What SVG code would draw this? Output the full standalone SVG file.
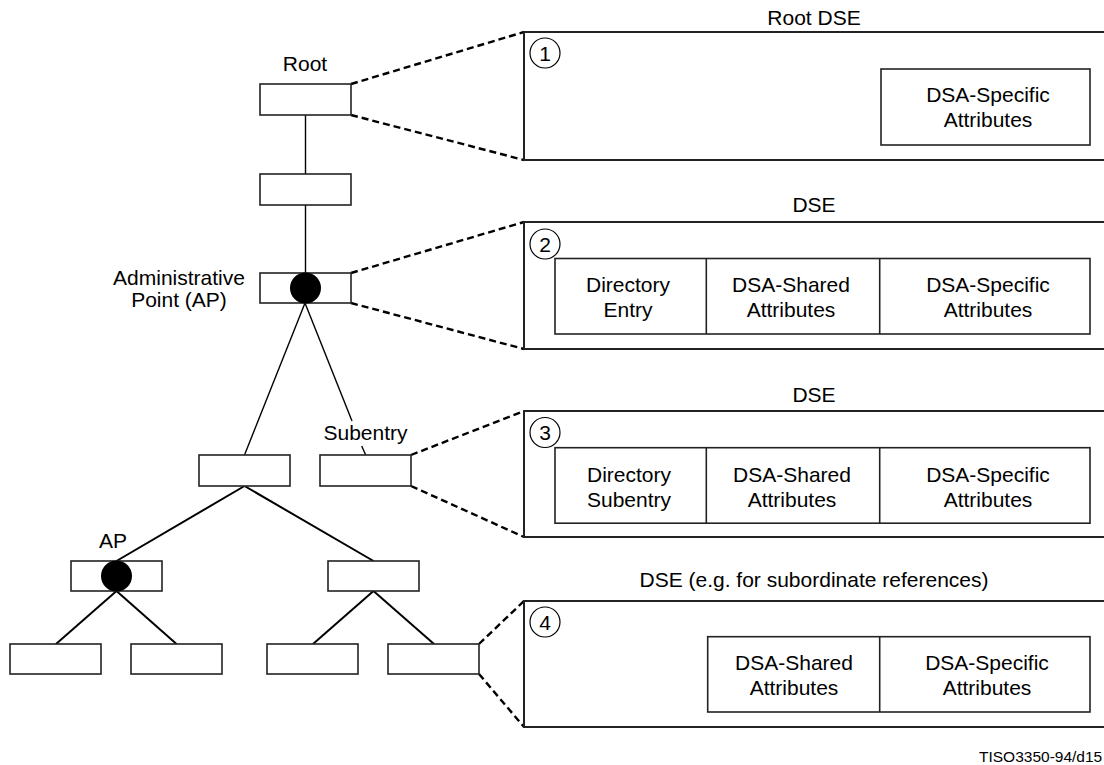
<svg xmlns="http://www.w3.org/2000/svg" width="1104" height="765" viewBox="0 0 1104 765">
<style>
text{font-family:"Liberation Sans",Arial,sans-serif;font-size:21px;fill:#000;text-anchor:middle}
.node{fill:#fff;stroke:#222;stroke-width:1.6}
.dot{fill:#000}
.tl{stroke:#000;stroke-width:1.4;fill:none}
.tl2{stroke:#000;stroke-width:2;fill:none}
.dash{stroke:#000;stroke-width:2.4;stroke-dasharray:7,4;fill:none}
.outer{fill:none;stroke:#222;stroke-width:2}
.inner{fill:none;stroke:#222;stroke-width:1.6}
.num{fill:none;stroke:#000;stroke-width:1.2}
.small{font-size:15.5px;text-anchor:start}
</style>
<rect width="1104" height="765" fill="#fff"/>
<g id="connectors">
<line class="tl" x1="305.5" y1="115" x2="305.5" y2="174"/>
<line class="tl" x1="305.5" y1="205" x2="305.5" y2="273"/>
<line class="tl" x1="305" y1="303" x2="244.5" y2="455"/>
<line class="tl" x1="305" y1="303" x2="352" y2="421"/>
<line class="tl" x1="361.7" y1="446" x2="365.7" y2="455"/>
<line class="tl2" x1="244.5" y1="486" x2="116.5" y2="561"/>
<line class="tl2" x1="244.5" y1="486" x2="373.5" y2="561"/>
<line class="tl2" x1="116.5" y1="591" x2="56" y2="644"/>
<line class="tl2" x1="116.5" y1="591" x2="176.5" y2="644"/>
<line class="tl2" x1="373.5" y1="591" x2="313" y2="644"/>
<line class="tl2" x1="373.5" y1="591" x2="434" y2="644"/>
<line class="dash" x1="351" y1="84" x2="524" y2="32"/>
<line class="dash" x1="351" y1="115" x2="524" y2="160"/>
<line class="dash" x1="351" y1="273" x2="524" y2="222"/>
<line class="dash" x1="351" y1="303" x2="524" y2="349"/>
<line class="dash" x1="411" y1="455" x2="524" y2="411"/>
<line class="dash" x1="411" y1="486" x2="524" y2="537"/>
<line class="dash" x1="479" y1="644" x2="524" y2="601"/>
<line class="dash" x1="479" y1="674" x2="524" y2="727"/>
</g>
<g id="root">
<rect class="node" x="260" y="84" width="91" height="31"/>
<text x="305" y="71">Root</text>
</g>
<g id="n2"><rect class="node" x="260" y="174" width="91" height="31"/></g>
<g id="ap">
<rect class="node" x="260" y="273" width="91" height="30"/>
<circle class="dot" cx="305.5" cy="288" r="15.5"/>
<text x="179" y="285">Administrative</text>
<text x="179" y="307">Point (AP)</text>
</g>
<g id="leftchild"><rect class="node" x="199" y="455" width="91" height="31"/></g>
<g id="subentry">
<rect class="node" x="320" y="455" width="91" height="31"/>
<text x="365.5" y="440">Subentry</text>
</g>
<g id="ap2">
<rect class="node" x="71" y="561" width="91" height="30"/>
<circle class="dot" cx="116.5" cy="576" r="15.5"/>
<text x="113" y="548">AP</text>
</g>
<g id="rightchild"><rect class="node" x="328" y="561" width="91" height="30"/></g>
<g id="leaf1"><rect class="node" x="10" y="644" width="91" height="30"/></g>
<g id="leaf2"><rect class="node" x="131" y="644" width="91" height="30"/></g>
<g id="leaf3"><rect class="node" x="267" y="644" width="91" height="30"/></g>
<g id="leaf4"><rect class="node" x="388" y="644" width="91" height="30"/></g>
<g id="dse1">
<text x="814" y="25">Root DSE</text>
<rect class="outer" x="524" y="32" width="620" height="128"/>
<circle class="num" cx="545" cy="53" r="15"/>
<text x="545" y="60.5">1</text>
<rect class="inner" x="881" y="69" width="209" height="76"/>
<text x="988" y="101.7">DSA-Specific</text>
<text x="988" y="126.7">Attributes</text>
</g>
<g id="dse2">
<text x="814" y="212">DSE</text>
<rect class="outer" x="524" y="222" width="620" height="127"/>
<circle class="num" cx="545" cy="244" r="15"/>
<text x="545" y="251.5">2</text>
<rect class="inner" x="555" y="258.5" width="535" height="75.5"/>
<line class="inner" x1="706.3" y1="258.5" x2="706.3" y2="334"/>
<line class="inner" x1="879.7" y1="258.5" x2="879.7" y2="334"/>
<text x="628" y="291.5">Directory</text>
<text x="628" y="316.5">Entry</text>
<text x="791" y="291.5">DSA-Shared</text>
<text x="791" y="316.5">Attributes</text>
<text x="988" y="291.5">DSA-Specific</text>
<text x="988" y="316.5">Attributes</text>
</g>
<g id="dse3">
<text x="814" y="401.5">DSE</text>
<rect class="outer" x="524" y="411" width="620" height="126"/>
<circle class="num" cx="545" cy="432.5" r="15"/>
<text x="545" y="440">3</text>
<rect class="inner" x="555" y="447.7" width="535" height="75.5"/>
<line class="inner" x1="706.3" y1="447.7" x2="706.3" y2="523.2"/>
<line class="inner" x1="879.7" y1="447.7" x2="879.7" y2="523.2"/>
<text x="629" y="481.5">Directory</text>
<text x="629" y="506.5">Subentry</text>
<text x="792" y="481.5">DSA-Shared</text>
<text x="792" y="506.5">Attributes</text>
<text x="988" y="481.5">DSA-Specific</text>
<text x="988" y="506.5">Attributes</text>
</g>
<g id="dse4">
<text x="814" y="587">DSE (e.g. for subordinate references)</text>
<rect class="outer" x="524" y="601" width="620" height="126"/>
<circle class="num" cx="545" cy="622" r="15"/>
<text x="545" y="629.5">4</text>
<rect class="inner" x="707.7" y="636.7" width="382.3" height="75.3"/>
<line class="inner" x1="879.7" y1="636.7" x2="879.7" y2="712"/>
<text x="794" y="669.5">DSA-Shared</text>
<text x="794" y="694.5">Attributes</text>
<text x="987" y="669.5">DSA-Specific</text>
<text x="987" y="694.5">Attributes</text>
</g>
<text class="small" x="979" y="762">TISO3350-94/d15</text>
</svg>
